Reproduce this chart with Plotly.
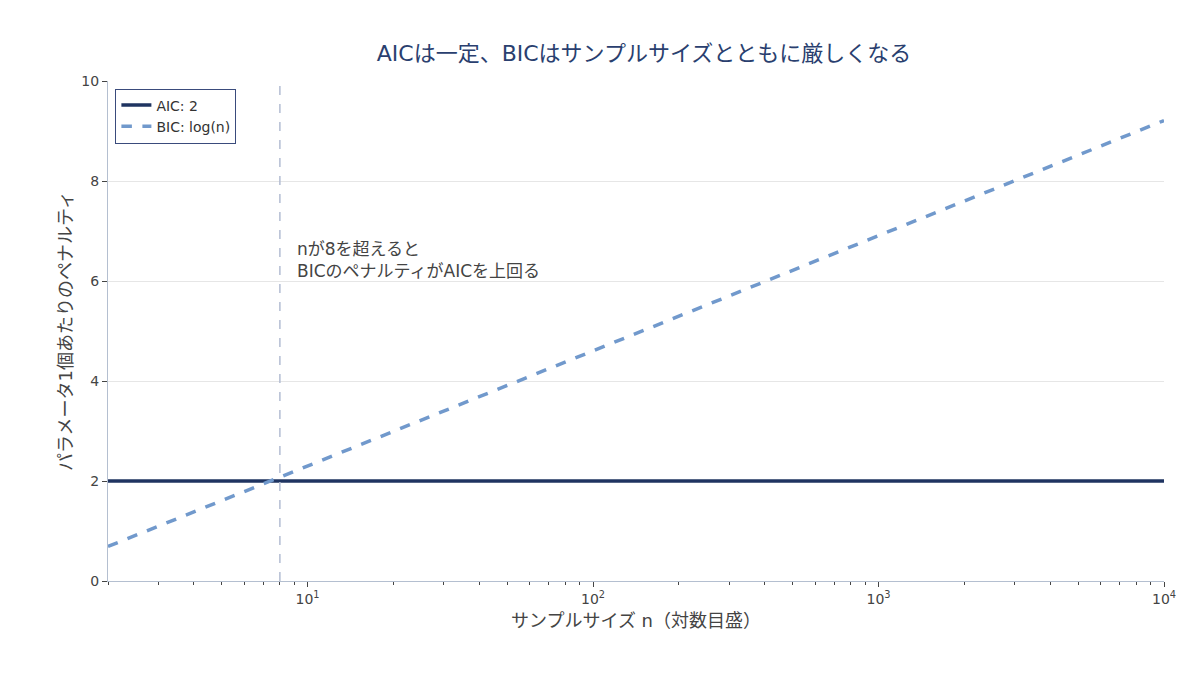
import plotly.graph_objects as go

# sample sizes and penalties per parameter
n_values = [2, 10, 100, 1000, 10000]
aic_penalty = [2, 2, 2, 2, 2]
bic_penalty = [0.69, 2.30, 4.61, 6.91, 9.21]
crossover_n = 8

major_ticks = [10, 100, 1000, 10000]
major_labels = ["10<sup>1</sup>", "10<sup>2</sup>", "10<sup>3</sup>", "10<sup>4</sup>"]
minor_ticks = [m * 10 ** d for d in range(4) for m in range(2, 10) if m * 10 ** d < 10000]

FONT = "DejaVu Sans, Noto Sans CJK JP, sans-serif"
AXIS_COLOR = "#b4bfd0"

fig = go.Figure()
fig.add_trace(go.Scatter(x=n_values, y=aic_penalty, mode="lines", name="AIC: 2",
                         line=dict(color="#1f3461", width=3.5)))
fig.add_trace(go.Scatter(x=n_values, y=bic_penalty, mode="lines", name="BIC: log(n)",
                         line=dict(color="#7199cc", width=3.5, dash="dash")))

fig.add_shape(type="line", xref="x", yref="paper", x0=crossover_n, x1=crossover_n, y0=0, y1=1,
              line=dict(color="#b3bdd3", width=1.5, dash="dash"))

fig.add_annotation(x=0.955, y=6.88, xref="x", yref="y", xanchor="left", yanchor="top", align="left",
                   text="nが8を超えると<br>BICのペナルティがAICを上回る", showarrow=False,
                   font=dict(size=17, color="#444444", family=FONT))

# page body has an 8px margin, so margins are shifted by 8px
fig.update_layout(
    width=1200, height=675,
    paper_bgcolor="white", plot_bgcolor="white",
    font=dict(family=FONT, size=14, color="#444444"),
    title=dict(text="AICは一定、BICはサンプルサイズとともに厳しくなる", x=0.53, xanchor="center",
               y=0.945, font=dict(size=22, color="#2a3f6f")),
    margin=dict(l=100, r=44, t=73, b=102),
    legend=dict(x=0.007, y=0.985, xanchor="left", yanchor="top", bgcolor="white",
                bordercolor="#3a4b7c", borderwidth=1, font=dict(size=14, color="#333333"),
                tracegroupgap=0, itemwidth=30),
    showlegend=True,
)
fig.update_xaxes(type="log", range=[0.301, 4], title=dict(text="サンプルサイズ n（対数目盛）", font=dict(size=18), standoff=8),
                 showline=True, linecolor=AXIS_COLOR, linewidth=1, showgrid=False, zeroline=False,
                 ticks="outside", ticklen=5, tickcolor="#444444",
                 tickmode="array", tickvals=major_ticks, ticktext=major_labels,
                 minor=dict(ticks="outside", ticklen=3, tickcolor="#444444", showgrid=False,
                            tickmode="array", tickvals=minor_ticks))
fig.update_yaxes(range=[0, 10], dtick=2, title=dict(text="パラメータ1個あたりのペナルティ", font=dict(size=18), standoff=4),
                 showline=True, linecolor=AXIS_COLOR, linewidth=1, gridcolor="#e6e6e6", zeroline=False,
                 ticks="outside", ticklen=5, tickcolor="#444444")

fig.write_html("out.html")
